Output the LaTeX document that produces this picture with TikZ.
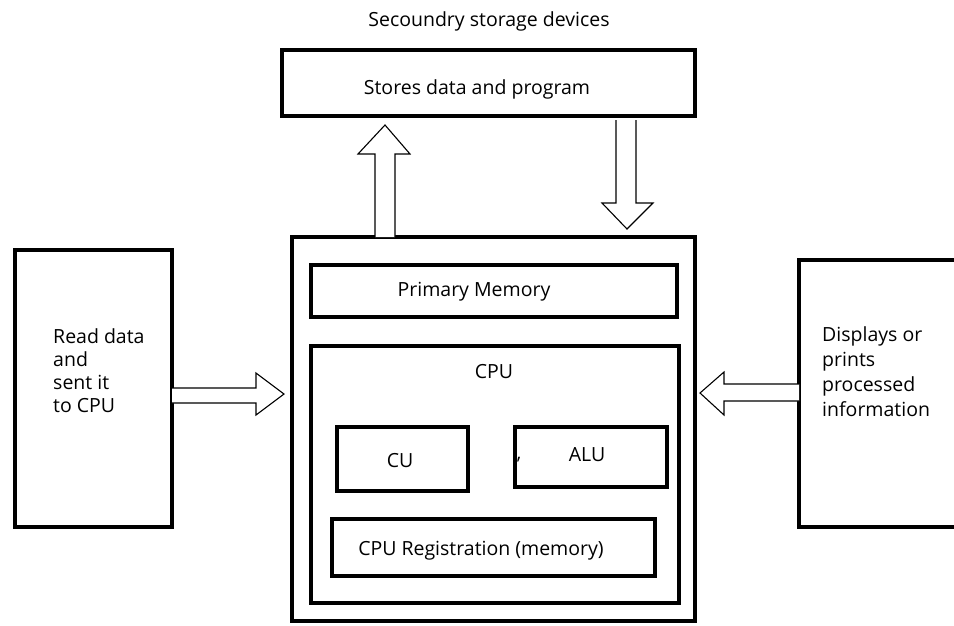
\documentclass[tikz,border=0pt]{standalone}
\usepackage{fontspec}
\setmainfont{Open Sans}
\usetikzlibrary{calc}
\begin{document}
\begin{tikzpicture}[x=1pt,y=-1pt,
  box/.style={draw,line width=4.5pt,anchor=north west,inner sep=0pt,outer sep=0pt},
  txt/.style={inner sep=0pt,anchor=base,font=\fontsize{19.5}{23}\selectfont},
  blk/.style={draw,line width=1.1pt,line join=miter,fill=white}]
\clip (0,0) rectangle (954,625);
\fill[white] (0,0) rectangle (954,625);
% boxes
\node[box,minimum width=413pt,minimum height=66pt] (store) at (282,50) {};
\node[box,minimum width=403pt,minimum height=384pt] (main) at (292,237) {};
\node[box,minimum width=366pt,minimum height=52pt] (prim) at (311,265) {};
\node[box,minimum width=368pt,minimum height=257pt] (cpu) at (311,346) {};
\node[box,minimum width=131pt,minimum height=64pt] (cu) at (337,427) {};
\node[box,minimum width=152pt,minimum height=60pt] (alu) at (515,427) {};
\node[box,minimum width=323pt,minimum height=57pt] (reg) at (332,519) {};
\node[box,minimum width=157pt,minimum height=277pt] (inp) at (15,250) {};
\node[box,minimum width=180pt,minimum height=267pt] (outp) at (799,260) {};
% texts
\node[txt] (sec) at (489,26) {Secoundry storage devices};
\node[txt] (t1) at (477,94) {Stores data and program};
\node[txt] (t2) at (474,296) {Primary Memory};
\node[txt] (t3) at (494,378) {CPU};
\node[txt] (t4) at (400,467) {CU};
\node[txt] (t5) at (587,461) {ALU};
\node[txt] (t6) at (481,555) {CPU Registration (memory)};
\node[txt] (comma) at (519,459) {,};
\node[txt,align=left,anchor=north west,font=\fontsize{19.5}{23}\selectfont] (t7) at (53,328) {Read data\\and\\sent it\\to CPU};
\node[txt,align=left,anchor=north west,font=\fontsize{19.5}{25}\selectfont] (t8) at (822,326) {Displays or\\prints\\processed\\information};
% block arrows
\coordinate (ua) at (main.north west -| 385,0);
\draw[blk] ($(ua)+(-10,0)$) -- ++(0,-83) -- ++(-17,0) -- ($(ua)+(0,-112)$) -- ($(ua)+(25,-83)$) -- ($(ua)+(10,-83)$) -- ($(ua)+(10,0)$);
\coordinate (da) at (store.south west -| 626,0);
\draw[blk] ($(da)+(-10,4)$) -- ++(0,83) -- ++(-14,0) -- ($(da)+(1,113)$) -- ($(da)+(27,87)$) -- ($(da)+(10,87)$) -- ($(da)+(10,4)$);
\coordinate (la) at (inp.east |- 0,395);
\draw[blk] ($(la)+(0,-7)$) -- ++(84,0) -- ++(0,-15) -- ($(la)+(112,-1)$) -- ($(la)+(84,20)$) -- ($(la)+(84,8)$) -- ($(la)+(0,8)$);
\coordinate (ra) at (outp.west |- 0,393);
\draw[blk] ($(ra)+(0,-9)$) -- ++(-75,0) -- ++(0,-12) -- ($(ra)+(-99,0)$) -- ($(ra)+(-75,22)$) -- ($(ra)+(-75,8)$) -- ($(ra)+(0,8)$);
\end{tikzpicture}
\end{document}
